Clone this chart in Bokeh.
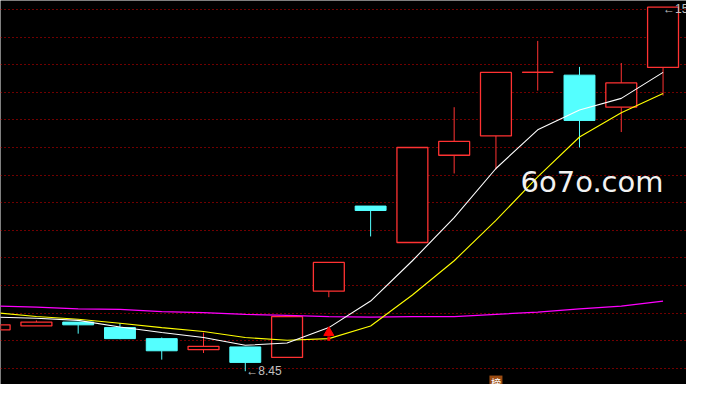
from bokeh.plotting import figure
from bokeh.models import Range1d, Label
from bokeh.core.properties import value
from bokeh.embed import file_html
from bokeh.resources import INLINE

# ---- data (prices) ----
idx = list(range(17))
opens  = [9.20, 9.27, 9.34, 9.24, 9.04, 8.84, 8.89, 8.70, 9.90, 11.44, 10.78, 12.36, 12.71, 13.86, 13.81, 13.23, 13.95]
closes = [9.29, 9.34, 9.29, 9.04, 8.82, 8.90, 8.61, 9.44, 10.42, 11.36, 12.50, 12.61, 13.86, 13.86, 12.99, 13.67, 15.04]
highs  = [9.29, 9.37, 9.34, 9.32, 9.06, 9.15, 8.89, 9.44, 10.42, 11.44, 12.50, 13.23, 13.86, 14.43, 13.96, 14.03, 15.04]
lows   = [9.20, 9.27, 9.13, 9.03, 8.66, 8.78, 8.45, 8.70, 9.79, 10.89, 10.78, 12.03, 12.10, 13.53, 12.50, 12.78, 13.44]

ma_white   = [9.43, 9.41, 9.37, 9.25, 9.15, 9.06, 8.92, 8.96, 9.24, 9.72, 10.45, 11.23, 12.12, 12.82, 13.18, 13.39, 13.86]
ma_yellow  = [9.51, 9.44, 9.39, 9.32, 9.24, 9.17, 9.06, 9.01, 9.04, 9.27, 9.83, 10.45, 11.18, 11.97, 12.69, 13.13, 13.48]
ma_magenta = [9.63, 9.61, 9.58, 9.57, 9.53, 9.51, 9.48, 9.46, 9.44, 9.43, 9.44, 9.44, 9.48, 9.52, 9.58, 9.63, 9.72]

grid_levels = [8.5, 9.0, 9.5, 10.0, 10.5, 11.0, 11.5, 12.0, 12.5, 13.0, 13.5, 14.0, 14.5, 15.0]

signal_idx = [8]
signal_price = [9.15]
badge_idx = [12]
badge_text = ["榜"]
watermark = "6o7o.com"

UP = "#ff3232"
DOWN = "#54ffff"

p = figure(width=686, height=384,
           x_range=Range1d(0.1404, 16.5614), y_range=Range1d(8.2098, 15.1614),
           output_backend="svg", toolbar_location=None,
           background_fill_color="black", border_fill_color="black",
           min_border=0, outline_line_color=None,
           x_axis_type=None, y_axis_type=None)

# dotted red grid
p.hspan(y=grid_levels, line_color="#e00000", line_width=1, line_dash="1 3")

up_x, up_top, up_bot = [], [], []
dn_x, dn_top, dn_bot = [], [], []
wick_x, wick_y0, wick_y1, wick_c = [], [], [], []
for i, o, c, h, l in zip(idx, opens, closes, highs, lows):
    top, bot = max(o, c), min(o, c)
    col = UP if c >= o else DOWN
    if c >= o:
        up_x.append(i); up_top.append(top); up_bot.append(bot)
    else:
        dn_x.append(i); dn_top.append(top); dn_bot.append(bot)
    if h > top:
        wick_x.append(i); wick_y0.append(top); wick_y1.append(h); wick_c.append(col)
    if l < bot:
        wick_x.append(i); wick_y0.append(l); wick_y1.append(bot); wick_c.append(col)

p.segment(x0=wick_x, y0=wick_y0, x1=wick_x, y1=wick_y1, line_color=wick_c, line_width=1)
p.vbar(x=up_x, top=up_top, bottom=up_bot, width=0.74,
       fill_color="black", line_color=UP, line_width=1.3)
p.vbar(x=dn_x, top=dn_top, bottom=dn_bot, width=0.74,
       fill_color=DOWN, line_color=DOWN, line_width=1)

# doji cross bars
dj = [(i, o) for i, o, c in zip(idx, opens, closes) if abs(o - c) < 0.005]
if dj:
    p.segment(x0=[d[0] - 0.37 for d in dj], y0=[d[1] for d in dj],
              x1=[d[0] + 0.37 for d in dj], y1=[d[1] for d in dj],
              line_color=UP, line_width=1.3)

# watermark
p.add_layout(Label(x=520, y=203, x_units="screen", y_units="screen", text=watermark,
                   text_font="DejaVu Sans", text_font_size="29px", text_color="#f2f2f2",
                   text_baseline="alphabetic", text_align="left"))

# moving averages
p.line(idx, ma_magenta, line_color="#ff00ff", line_width=1.2)
p.line(idx, ma_yellow, line_color="#ffff00", line_width=1.1)
p.line(idx, ma_white, line_color="#ffffff", line_width=1.1)

# signal arrow
p.scatter(x=signal_idx, y=signal_price, marker="triangle", size=10,
          fill_color="#ff0000", line_color="#ff0000")
p.segment(x0=signal_idx, y0=[s - 0.07 for s in signal_price],
          x1=signal_idx, y1=[s - 0.15 for s in signal_price],
          line_color="#ff0000", line_width=3)

# low / high labels
i_lo = lows.index(min(lows))
i_hi = highs.index(max(highs))
p.text(x=[i_lo], y=[lows[i_lo]], text=["←%.2f" % lows[i_lo]], x_offset=1,
       text_font=value("Liberation Sans"), text_font_size="12px", text_color="#c0c0c0",
       text_align="left", text_baseline="middle")
p.text(x=[i_hi], y=[highs[i_hi]], text=["←%.2f" % highs[i_hi]], x_offset=0, y_offset=2,
       text_font=value("Liberation Sans"), text_font_size="12px", text_color="#c0c0c0",
       text_align="left", text_baseline="middle")

# badge at bottom
badge_y = [8.245 for _ in badge_idx]
p.rect(x=badge_idx, y=badge_y, width=13, height=14, width_units="screen", height_units="screen",
       fill_color="#9a4b12", line_color=None)
p.text(x=badge_idx, y=badge_y, text=badge_text, text_font=value("Noto Sans CJK SC"),
       text_font_size="10px", text_color="white", text_align="center", text_baseline="middle")

open("out.html", "w").write(file_html(p, INLINE))
